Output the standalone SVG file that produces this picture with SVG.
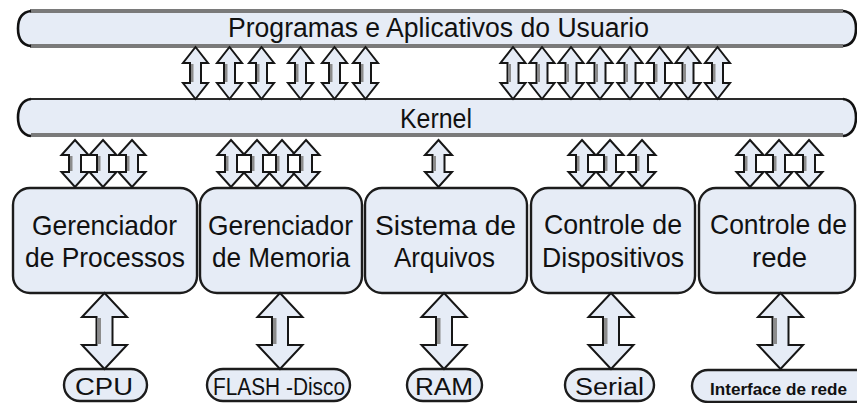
<svg xmlns="http://www.w3.org/2000/svg" xmlns:xlink="http://www.w3.org/1999/xlink" width="857" height="403" viewBox="0 0 857 403">
  <style>
    .bg { fill: #ffffff; }
    .shape { fill: #e6ecf6; stroke: #1c1c1c; stroke-width: 2.4; }
    .edge { fill: none; stroke: #7a7a7a; stroke-width: 4; }
    .cap { fill: none; stroke: #111; stroke-width: 2.6; }
    .arrow { fill: #e6ecf6; stroke: #161616; stroke-width: 2; stroke-linejoin: miter; }
    .shade { fill: #8c8c8c; }
    .label { font-family: "Liberation Sans", Arial, sans-serif; fill: #111; text-anchor: middle; }
    .big { font-size: 28px; }
    .bar { font-size: 27px; }
    .small { font-size: 23px; }
    .tiny { font-size: 16px; font-weight: bold; }
  </style>
  <defs>
    <!-- double-headed block arrows, origin at top tip -->
    <g id="a1">
      <path class="arrow" d="M0,0 L12.5,16 L5.5,16 L5.5,36 L12.5,36 L0,52 L-12.5,36 L-5.5,36 L-5.5,16 L-12.5,16 Z"/>
      <rect class="shade" x="-4.5" y="17" width="2.5" height="18"/>
    </g>
    <g id="a2">
      <path class="arrow" d="M0,0 L13.5,15 L6,15 L6,32 L13.5,32 L0,47 L-13.5,32 L-6,32 L-6,15 L-13.5,15 Z"/>
      <rect class="shade" x="-5" y="16" width="2.5" height="15"/>
    </g>
    <g id="a3">
      <path class="arrow" d="M0,0 L22.5,24 L8,24 L8,52 L22.5,52 L0,76 L-22.5,52 L-8,52 L-8,24 L-22.5,24 Z"/>
      <rect class="shade" x="-7" y="25" width="3.5" height="26"/>
    </g>
  </defs>

  <rect class="bg" x="0" y="0" width="857" height="403"/>

  <!-- user programs bar -->
  <g id="programas">
    <rect x="19" y="11" width="836" height="35" rx="13" fill="#e6ecf6"/>
    <line class="edge" x1="30" y1="11" x2="843" y2="11"/>
    <line class="edge" x1="30" y1="46" x2="843" y2="46"/>
    <path class="cap" d="M31,11 C22,12 18,19 18,28.5 C18,38 22,45 31,46"/>
    <path class="cap" d="M843,11 C852,12 856,19 856,28.5 C856,38 852,45 843,46"/>
    <text class="label bar" x="438.5" y="37" textLength="421" lengthAdjust="spacingAndGlyphs">Programas e Aplicativos do Usuario</text>
  </g>

  <!-- kernel bar -->
  <g id="kernel">
    <rect x="19" y="99" width="836" height="37" rx="14" fill="#e6ecf6"/>
    <line x1="31" y1="99" x2="843" y2="99" stroke="#2a2a2a" stroke-width="2.2"/>
    <line class="edge" x1="31" y1="135" x2="843" y2="135"/>
    <path class="cap" d="M31,99 C22,100 18,108 18,117.5 C18,127 22,135 31,136"/>
    <path class="cap" d="M843,99 C852,100 856,108 856,117.5 C856,127 852,135 843,136"/>
    <text class="label bar" x="436" y="128" textLength="72" lengthAdjust="spacingAndGlyphs">Kernel</text>
  </g>

  <!-- modules -->
  <g id="processos">
    <rect class="shape" x="13" y="188" width="184" height="105" rx="17"/>
    <text class="label big" x="104.5" y="235" textLength="145" lengthAdjust="spacingAndGlyphs">Gerenciador</text>
    <text class="label big" x="105" y="267" textLength="160" lengthAdjust="spacingAndGlyphs">de Processos</text>
  </g>
  <g id="memoria">
    <rect class="shape" x="200" y="188" width="162" height="105" rx="17"/>
    <text class="label big" x="280.5" y="235" textLength="145" lengthAdjust="spacingAndGlyphs">Gerenciador</text>
    <text class="label big" x="281" y="267" textLength="138" lengthAdjust="spacingAndGlyphs">de Memoria</text>
  </g>
  <g id="arquivos">
    <rect class="shape" x="365" y="188" width="162" height="105" rx="17"/>
    <text class="label big" x="445.5" y="235" textLength="141" lengthAdjust="spacingAndGlyphs">Sistema de</text>
    <text class="label big" x="444.5" y="267" textLength="101" lengthAdjust="spacingAndGlyphs">Arquivos</text>
  </g>
  <g id="dispositivos">
    <rect class="shape" x="531" y="188" width="164" height="105" rx="17"/>
    <text class="label big" x="613" y="234" textLength="138" lengthAdjust="spacingAndGlyphs">Controle de</text>
    <text class="label big" x="613" y="267" textLength="142" lengthAdjust="spacingAndGlyphs">Dispositivos</text>
  </g>
  <g id="rede">
    <rect class="shape" x="699" y="188" width="156" height="105" rx="17"/>
    <text class="label big" x="778.5" y="234" textLength="137" lengthAdjust="spacingAndGlyphs">Controle de</text>
    <text class="label big" x="779.5" y="267" textLength="55" lengthAdjust="spacingAndGlyphs">rede</text>
  </g>

  <!-- hardware -->
  <g id="cpu">
    <rect class="shape" x="64" y="369" width="83" height="32" rx="16"/>
    <text class="label small" x="104" y="395" textLength="58" lengthAdjust="spacingAndGlyphs">CPU</text>
  </g>
  <g id="flash">
    <rect class="shape" x="207" y="369" width="143" height="32" rx="16"/>
    <text class="label small" x="279" y="395" textLength="132" lengthAdjust="spacingAndGlyphs">FLASH -Disco</text>
  </g>
  <g id="ram">
    <rect class="shape" x="407" y="369" width="75" height="32" rx="16"/>
    <text class="label small" x="444" y="395" textLength="58" lengthAdjust="spacingAndGlyphs">RAM</text>
  </g>
  <g id="serial">
    <rect class="shape" x="565" y="369" width="89" height="32" rx="16"/>
    <text class="label small" x="609.5" y="395" textLength="69" lengthAdjust="spacingAndGlyphs">Serial</text>
  </g>
  <g id="interface">
    <rect class="shape" x="692" y="370" width="180" height="32" rx="16"/>
    <text class="label tiny" x="778.5" y="395" textLength="137" lengthAdjust="spacingAndGlyphs">Interface de rede</text>
  </g>

  <!-- connectors -->
  <g id="connectors">
    <!-- programs <-> kernel -->
    <use xlink:href="#a1" x="195.5" y="47"/>
    <use xlink:href="#a1" x="229.5" y="47"/>
    <use xlink:href="#a1" x="261.5" y="47"/>
    <use xlink:href="#a1" x="300.5" y="47"/>
    <use xlink:href="#a1" x="334.5" y="47"/>
    <use xlink:href="#a1" x="365.5" y="47"/>
    <use xlink:href="#a1" x="513" y="47"/>
    <use xlink:href="#a1" x="542" y="47"/>
    <use xlink:href="#a1" x="571" y="47"/>
    <use xlink:href="#a1" x="600" y="47"/>
    <use xlink:href="#a1" x="630" y="47"/>
    <use xlink:href="#a1" x="659.5" y="47"/>
    <use xlink:href="#a1" x="688" y="47"/>
    <use xlink:href="#a1" x="717.5" y="47"/>
    <!-- kernel <-> modules -->
    <use xlink:href="#a2" x="75" y="140"/>
    <use xlink:href="#a2" x="103" y="140"/>
    <use xlink:href="#a2" x="132" y="140"/>
    <use xlink:href="#a2" x="231" y="140"/>
    <use xlink:href="#a2" x="257" y="140"/>
    <use xlink:href="#a2" x="282" y="140"/>
    <use xlink:href="#a2" x="306" y="140"/>
    <use xlink:href="#a2" x="438.5" y="140"/>
    <use xlink:href="#a2" x="582" y="140"/>
    <use xlink:href="#a2" x="610" y="140"/>
    <use xlink:href="#a2" x="642" y="140"/>
    <use xlink:href="#a2" x="750" y="140"/>
    <use xlink:href="#a2" x="779" y="140"/>
    <use xlink:href="#a2" x="809" y="140"/>
    <!-- modules <-> hardware -->
    <use xlink:href="#a3" x="104.5" y="293"/>
    <use xlink:href="#a3" x="280" y="293"/>
    <use xlink:href="#a3" x="444" y="293"/>
    <use xlink:href="#a3" x="611" y="293"/>
    <use xlink:href="#a3" x="780.5" y="293"/>
  </g>
</svg>
